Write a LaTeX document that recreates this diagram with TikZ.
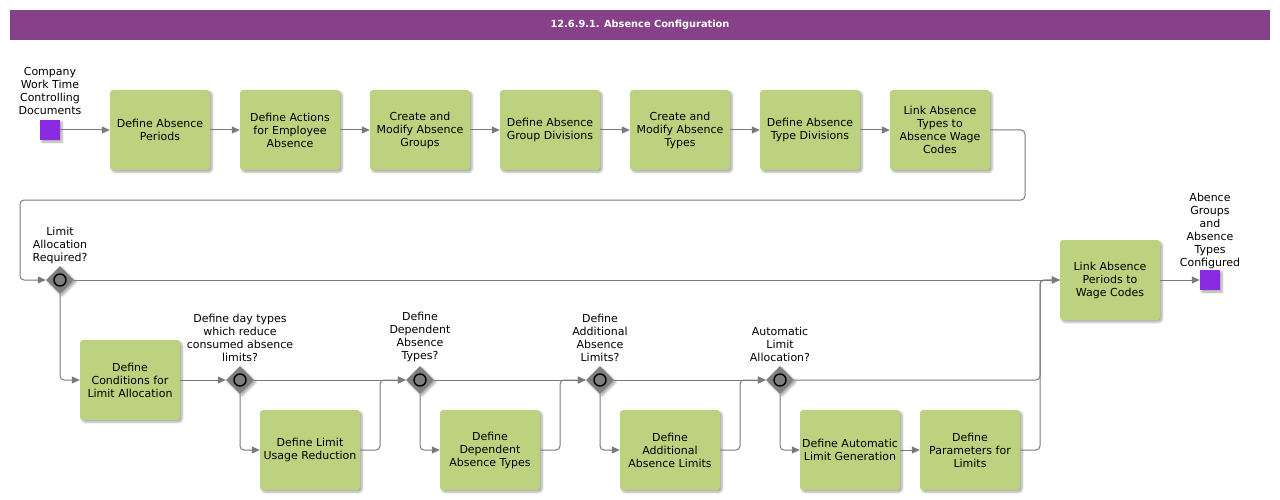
\documentclass[tikz,border=0pt]{standalone}
\usepackage{fontspec}
\setmainfont{DejaVu Sans}
\usetikzlibrary{arrows.meta,shapes.geometric,shadows.blur}
\definecolor{titlepurple}{HTML}{874189}
\definecolor{taskgreen}{HTML}{BDD27E}
\definecolor{eventpurple}{HTML}{8A2BE2}
\definecolor{gatewaygray}{HTML}{7F7F7F}
\definecolor{flowgray}{HTML}{7A7A7A}
\begin{document}
\begin{tikzpicture}[x=1pt,y=-1pt,
  font=\fontsize{11}{13}\selectfont,
  softshadow/.style={blur shadow={shadow xshift=2pt,shadow yshift=-2pt,shadow blur steps=4,shadow opacity=35}},
  task/.style={fill=taskgreen,rounded corners=3pt,minimum width=100pt,minimum height=80pt,align=center,inner sep=0pt,softshadow},
  event/.style={fill=eventpurple,minimum size=20pt,inner sep=0pt,softshadow},
  gateway/.style={diamond,fill=gatewaygray,minimum size=28pt,inner sep=0pt,softshadow,
    path picture={\draw[line width=1.4pt] (path picture bounding box.center) circle (6pt);}},
  note/.style={align=center,inner sep=1pt},
  flow/.style={draw=flowgray,line width=1pt,rounded corners=4pt,-{Triangle[length=8pt,width=7pt]}}]
\useasboundingbox (0,0) rectangle (1280,500);

\node[fill=titlepurple,minimum width=1260pt,minimum height=30pt,text=white,font=\bfseries\fontsize{9.8}{12}\selectfont] (title) at (640,25) {12.6.9.1. Absence Configuration};

% first row
\node[event,label={[note,label distance=4pt]above:Company\\Work Time\\Controlling\\Documents}] (start) at (50,130) {};
\node[task] (n1) at (160,130) {Define Absence\\Periods};
\node[task] (n2) at (290,130) {Define Actions\\for Employee\\Absence};
\node[task] (n3) at (420,130) {Create and\\Modify Absence\\Groups};
\node[task] (n4) at (550,130) {Define Absence\\Group Divisions};
\node[task] (n5) at (680,130) {Create and\\Modify Absence\\Types};
\node[task] (n6) at (810,130) {Define Absence\\Type Divisions};
\node[task] (n7) at (940,130) {Link Absence\\Types to\\Absence Wage\\Codes};

% gateways
\node[gateway,label={[note,label distance=1pt]above:Limit\\Allocation\\Required?}] (g1) at (60,280) {};
\node[gateway,label={[note,label distance=3pt]above:Define day types\\which reduce\\consumed absence\\limits?}] (g2) at (240,380) {};
\node[gateway,label={[note,label distance=3pt]above:Define\\Dependent\\Absence\\Types?}] (g3) at (420,380) {};
\node[gateway,label={[note,label distance=3pt]above:Define\\Additional\\Absence\\Limits?}] (g4) at (600,380) {};
\node[gateway,label={[note,label distance=3pt]above:Automatic\\Limit\\Allocation?}] (g5) at (780,380) {};

% lower tasks
\node[task] (c1) at (130,380) {Define\\Conditions for\\Limit Allocation};
\node[task] (r1) at (310,450) {Define Limit\\Usage Reduction};
\node[task] (d1) at (490,450) {Define\\Dependent\\Absence Types};
\node[task] (l1) at (670,450) {Define\\Additional\\Absence Limits};
\node[task] (a1) at (850,450) {Define Automatic\\Limit Generation};
\node[task] (p1) at (970,450) {Define\\Parameters for\\Limits};
\node[task] (link) at (1110,280) {Link Absence\\Periods to\\Wage Codes};
\node[event,label={[note]above:Abence\\Groups\\and\\Absence\\Types\\Configured}] (finish) at (1210,280) {};

% connectors
\draw[flow] (start) -- (n1);
\draw[flow] (n1) -- (n2);
\draw[flow] (n2) -- (n3);
\draw[flow] (n3) -- (n4);
\draw[flow] (n4) -- (n5);
\draw[flow] (n5) -- (n6);
\draw[flow] (n6) -- (n7);
\draw[flow] (n7.east) -- (1025,130) -- (1025,200) -- (20,200) -- (20,280) -- (g1.west);
\draw[flow] (g1.east) -- (link.west);
\draw[flow] (g1.south) |- (c1.west);
\draw[flow] (c1.east) -- (g2.west);
\draw[flow] (g2.east) -- (g3.west);
\draw[flow] (g2.south) |- (r1.west);
\draw[flow] (r1.east) -- (380,450) |- (g3.west);
\draw[flow] (g3.east) -- (g4.west);
\draw[flow] (g3.south) |- (d1.west);
\draw[flow] (d1.east) -- (560,450) |- (g4.west);
\draw[flow] (g4.east) -- (g5.west);
\draw[flow] (g4.south) |- (l1.west);
\draw[flow] (l1.east) -- (740,450) |- (g5.west);
\draw[flow] (g5.east) -- (1040,380) |- (link.west);
\draw[flow] (g5.south) |- (a1.west);
\draw[flow] (a1) -- (p1);
\draw[flow] (p1.east) -- (1040,450) |- (link.west);
\draw[flow] (link) -- (finish);
\end{tikzpicture}
\end{document}
